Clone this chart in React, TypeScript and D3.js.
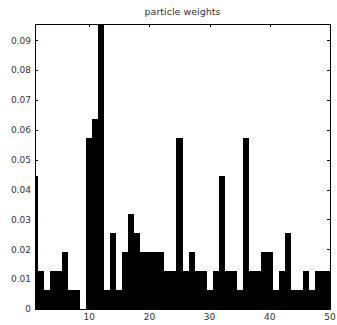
import React from "react";
import * as d3 from "d3";

const particles: number[] = d3.range(1, 51);
const weights: number[] = [
  0.0446, 0.0127, 0.0064, 0.0127, 0.0127, 0.0191, 0.0064, 0.0064, 0, 0.0573,
  0.0637, 0.0955, 0.0064, 0.0255, 0.0064, 0.0191, 0.0318, 0.0255, 0.0191, 0.0191,
  0.0191, 0.0191, 0.0127, 0.0127, 0.0573, 0.0127, 0.0191, 0.0127, 0.0127, 0.0064,
  0.0127, 0.0446, 0.0127, 0.0127, 0.0064, 0.0573, 0.0127, 0.0127, 0.0191, 0.0191,
  0.0064, 0.0127, 0.0255, 0.0064, 0.0064, 0.0127, 0.0064, 0.0127, 0.0127, 0.0127,
];
const xTicks: number[] = [10, 20, 30, 40, 50];
const yTicks: number[] = [0, 0.01, 0.02, 0.03, 0.04, 0.05, 0.06, 0.07, 0.08, 0.09];
const title = "particle weights";

const W = 337;
const H = 325;
const left = 35;
const right = 330;
const top = 24;
const bottom = 309;

export default function App() {
  const x = d3.scaleLinear().domain([1, 50]).range([left, right]);
  const y = d3.scaleLinear().domain([0, d3.max(weights) as number]).range([bottom, top]);
  const font = "'DejaVu Sans', Verdana, sans-serif";
  const tl = 3;
  const barPath = particles
    .map((p, i) => {
      const x0 = Math.round(x(p - 0.5));
      const x1 = Math.round(x(p + 0.5));
      const y0 = Math.round(y(weights[i]));
      return `M${x0},${bottom}V${y0}H${x1}V${bottom}Z`;
    })
    .join("");
  return (
    <svg
      width={W}
      height={H}
      style={{ position: "absolute", left: 0, top: 0, background: "#fff" }}
    >
      <defs>
        <clipPath id="plot">
          <rect x={left} y={top} width={right - left} height={bottom - top} />
        </clipPath>
      </defs>
      <g clipPath="url(#plot)">
        <path d={barPath} fill="#000" shapeRendering="crispEdges" />
      </g>
      <rect
        x={left + 0.5}
        y={top + 0.5}
        width={right - left}
        height={bottom - top}
        fill="none"
        stroke="#000"
        strokeWidth={1}
        shapeRendering="crispEdges"
      />
      {yTicks.map((t) => (
        <g key={"y" + t} shapeRendering="crispEdges">
          <line x1={left} x2={left + tl} y1={Math.round(y(t)) + 0.5} y2={Math.round(y(t)) + 0.5} stroke="#000" />
          <line x1={right} x2={right - tl} y1={Math.round(y(t)) + 0.5} y2={Math.round(y(t)) + 0.5} stroke="#000" />
          <text
            x={left - 4}
            y={y(t)}
            dy="0.36em"
            textAnchor="end"
            fontFamily={font}
            fontSize={9}
            fill="#333"
          >
            {t === 0 ? "0" : t.toFixed(2)}
          </text>
        </g>
      ))}
      {xTicks.map((t) => (
        <g key={"x" + t} shapeRendering="crispEdges">
          <line x1={Math.round(x(t)) + 0.5} x2={Math.round(x(t)) + 0.5} y1={bottom} y2={bottom - tl} stroke="#000" />
          <line x1={Math.round(x(t)) + 0.5} x2={Math.round(x(t)) + 0.5} y1={top} y2={top + tl} stroke="#000" />
          <text
            x={x(t)}
            y={bottom + 11}
            textAnchor="middle"
            fontFamily={font}
            fontSize={9}
            fill="#333"
          >
            {t}
          </text>
        </g>
      ))}
      <text
        x={(left + right) / 2}
        y={14.5}
        textAnchor="middle"
        fontFamily={font}
        fontSize={9.5}
        fill="#333"
      >
        {title}
      </text>
    </svg>
  );
}
